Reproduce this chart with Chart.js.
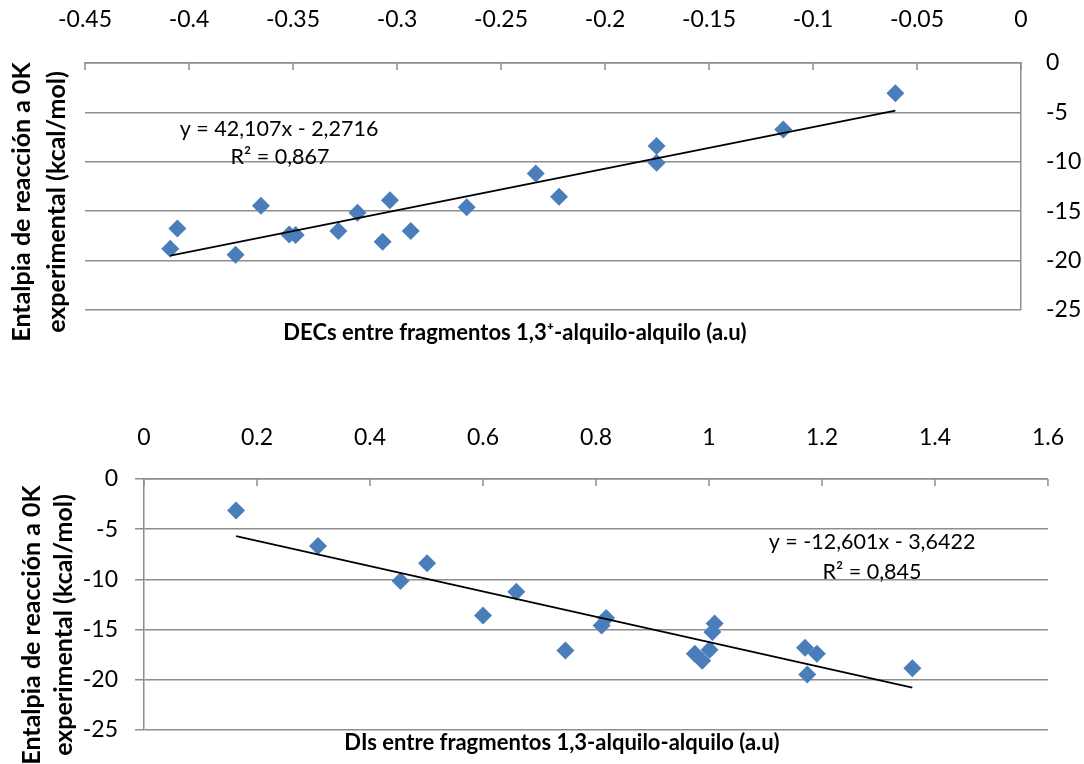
<!DOCTYPE html>
<html>
<head>
<meta charset="utf-8">
<script src="https://cdn.jsdelivr.net/npm/chart.js@4.4.0/dist/chart.umd.min.js"></script>
<style>
  body { margin: 0; background: #fff; }
  .box { position: relative; width: 1084px; height: 382px; }
</style>
</head>
<body>
<div class="box"><canvas id="decChart"></canvas></div>
<div class="box"><canvas id="diChart"></canvas></div>
<script>
// --- Datos: DECs (grafica superior) ---
const decX = [-0.409, -0.4056, -0.3776, -0.3654, -0.3518, -0.3487, -0.3282, -0.319, -0.3069,
              -0.3034, -0.2934, -0.2665, -0.2333, -0.2221, -0.1752, -0.1752, -0.1143, -0.0604];
const decY = [-18.8, -16.75, -19.4, -14.46, -17.36, -17.4, -17.0, -15.16, -18.1,
              -13.9, -17.0, -14.6, -11.18, -13.55, -8.41, -10.1, -6.72, -3.07];
const decFit = [42.107, -2.2716]; // pendiente, ordenada
const decXTicks = [-0.45, -0.4, -0.35, -0.3, -0.25, -0.2, -0.15, -0.1, -0.05, 0];
const decXLabels = ['-0.45', '-0.4', '-0.35', '-0.3', '-0.25', '-0.2', '-0.15', '-0.1', '-0.05', '0'];

// --- Datos: DIs (grafica inferior) ---
const diX = [0.163, 0.308, 0.454, 0.501, 0.600, 0.659, 0.746, 0.810, 0.818,
             0.975, 0.988, 1.001, 1.006, 1.010, 1.170, 1.174, 1.191, 1.360];
const diY = [-3.13, -6.67, -10.17, -8.4, -13.6, -11.24, -17.07, -14.6, -13.84,
             -17.4, -18.1, -17.0, -15.24, -14.4, -16.8, -19.47, -17.4, -18.84];
const diFit = [-12.601, -3.6422];
const diXTicks = [0, 0.2, 0.4, 0.6, 0.8, 1, 1.2, 1.4, 1.6];
const diXLabels = ['0', '0.2', '0.4', '0.6', '0.8', '1', '1.2', '1.4', '1.6'];

const yTicks = [-25, -20, -15, -10, -5, 0];
const yLabels = ['-25', '-20', '-15', '-10', '-5', '0'];

const FONT = 'Lato, "Open Sans", sans-serif';
const GRID = '#8e8e8e';
const BLUE = '#4a7ebb';

function points(xs, ys) {
    return xs.map((x, i) => ({ x: x, y: ys[i] }));
}

function fitLine(xs, fit) {
    const lo = Math.min(...xs), hi = Math.max(...xs);
    return [lo, hi].map(x => ({ x: x, y: fit[0] * x + fit[1] }));
}

// textos libres y marcas interiores del eje x
const extras = {
    id: 'extras',
    afterDraw(chart, args, opts) {
        const ctx = chart.ctx;
        const xs = chart.scales.x;
        ctx.save();
        ctx.strokeStyle = GRID;
        ctx.lineWidth = 1.5;
        xs.ticks.forEach(t => {
            const px = xs.getPixelForValue(t.value);
            ctx.beginPath();
            ctx.moveTo(px, xs.bottom);
            ctx.lineTo(px, xs.bottom + 7);
            ctx.stroke();
        });
        ctx.fillStyle = '#000';
        ctx.textAlign = 'center';
        ctx.textBaseline = 'middle';
        (opts.texts || []).forEach(t => {
            ctx.save();
            ctx.font = t.font;
            ctx.translate(t.x, t.y);
            if (t.rot) ctx.rotate(t.rot);
            ctx.fillText(t.text, 0, 0);
            ctx.restore();
        });
        ctx.restore();
    }
};

function makeChart(id, c) {
    return new Chart(document.getElementById(id), {
        type: 'scatter',
        data: {
            datasets: [{
                type: 'line',
                data: fitLine(c.xs, c.fit),
                borderColor: '#000',
                borderWidth: 1.8,
                pointRadius: 0,
                fill: false,
                order: 0
            }, {
                data: points(c.xs, c.ys),
                pointStyle: 'rectRot',
                pointRadius: 9,
                backgroundColor: BLUE,
                borderColor: BLUE,
                borderWidth: 0,
                order: 1
            }]
        },
        options: {
            responsive: true,
            maintainAspectRatio: false,
            animation: false,
            layout: { padding: c.padding },
            plugins: {
                legend: { display: false },
                tooltip: { enabled: false },
                extras: { texts: c.texts }
            },
            scales: {
                x: {
                    type: 'linear',
                    position: 'top',
                    min: c.xTicks[0],
                    max: c.xTicks[c.xTicks.length - 1],
                    afterBuildTicks: s => { s.ticks = c.xTicks.map(v => ({ value: v })); },
                    afterFit: s => { s.height = c.xHeight; },
                    grid: { display: false },
                    border: { display: true, color: GRID, width: 1.5 },
                    ticks: {
                        padding: c.xPad,
                        color: '#000',
                        font: { family: FONT, size: 23 },
                        callback: (v, i) => c.xLabels[i]
                    }
                },
                y: {
                    type: 'linear',
                    position: c.yPos,
                    min: -25,
                    max: 0,
                    afterBuildTicks: s => { s.ticks = yTicks.map(v => ({ value: v })); },
                    afterFit: s => { s.width = c.yWidth; },
                    grid: { color: GRID, lineWidth: 1.5, drawTicks: c.yTickLen > 0, tickLength: c.yTickLen },
                    border: { display: true, color: GRID, width: 1.5 },
                    ticks: {
                        padding: c.yPad,
                        color: '#000',
                        font: { family: FONT, size: 23 },
                        callback: (v, i) => yLabels[i]
                    }
                }
            }
        },
        plugins: [extras]
    });
}

const BOLD = 'bold 22px ' + FONT;
const YBOLD = 'bold 25px ' + FONT;
const EQ = '21.5px ' + FONT;
const ROT = -Math.PI / 2;

makeChart('decChart', {
    xs: decX, ys: decY, fit: decFit,
    xTicks: decXTicks, xLabels: decXLabels,
    yPos: 'right', xHeight: 63, yWidth: 63, xPad: 22, yPad: 25, yTickLen: 0,
    padding: { left: 85, top: 0, right: 0, bottom: 72 },
    texts: [
        { text: 'y = 42,107x - 2,2716', x: 279, y: 129, font: EQ },
        { text: 'R² = 0,867', x: 280, y: 157, font: EQ },
        { text: 'DECs entre fragmentos 1,3⁺-alquilo-alquilo (a.u)', x: 515, y: 333, font: BOLD },
        { text: 'Entalpia de reacción a 0K', x: 22, y: 202, font: YBOLD, rot: ROT },
        { text: 'experimental (kcal/mol)', x: 57, y: 202, font: YBOLD, rot: ROT }
    ]
});

makeChart('diChart', {
    xs: diX, ys: diY, fit: diFit,
    xTicks: diXTicks, xLabels: diXLabels,
    yPos: 'left', xHeight: 97, yWidth: 144, xPad: 20, yPad: 17, yTickLen: 9,
    padding: { left: 0, top: 0, right: 27, bottom: 34 },
    texts: [
        { text: 'y = -12,601x - 3,6422', x: 872, y: 160, font: EQ },
        { text: 'R² = 0,845', x: 872, y: 190, font: EQ },
        { text: 'DIs entre fragmentos 1,3-alquilo-alquilo (a.u)', x: 562, y: 361, font: BOLD },
        { text: 'Entalpia de reacción a 0K', x: 32, y: 243, font: YBOLD, rot: ROT },
        { text: 'experimental (kcal/mol)', x: 64, y: 243, font: YBOLD, rot: ROT }
    ]
});
</script>
</body>
</html>
